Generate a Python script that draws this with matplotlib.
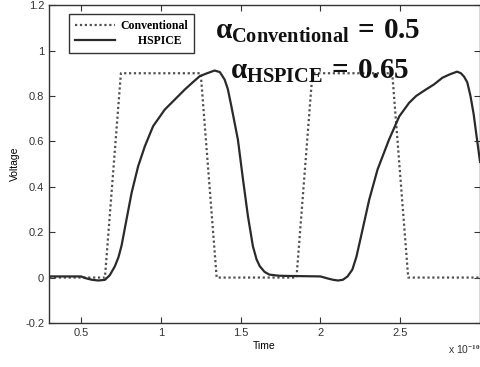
import matplotlib
matplotlib.use("Agg")
import matplotlib.pyplot as plt

plt.rcParams['font.family'] = ['Liberation Sans', 'DejaVu Sans']
plt.rcParams['mathtext.fontset'] = 'custom'
plt.rcParams['mathtext.rm'] = 'Liberation Serif:bold'
plt.rcParams['mathtext.bf'] = 'Liberation Serif:bold'
plt.rcParams['mathtext.it'] = 'Liberation Serif:bold'

# conventional model (units of 1e-10 s)
t_conv = [0.3, 0.65, 0.75, 1.25, 1.35, 1.85, 1.95, 2.45, 2.55, 3.0]
v_conv = [0, 0, 0.9, 0.9, 0, 0, 0.9, 0.9, 0, 0]

# HSPICE simulation
t_hsp = [0.30, 0.40, 0.50, 0.53, 0.57, 0.61, 0.65, 0.68, 0.7125, 0.735,
         0.754, 0.785, 0.817, 0.858, 0.90, 0.952, 1.025, 1.0875, 1.15, 1.20,
         1.244, 1.29, 1.3375, 1.37, 1.40, 1.42, 1.442, 1.483, 1.515, 1.546,
         1.577, 1.60, 1.62, 1.65, 1.68, 1.74, 1.80, 1.90, 2.00, 2.04, 2.08,
         2.11, 2.14, 2.17, 2.20, 2.225, 2.254, 2.306, 2.358, 2.43, 2.494,
         2.556, 2.60, 2.66, 2.71, 2.764, 2.81, 2.856, 2.88, 2.90, 2.92, 2.94,
         2.96, 2.975, 3.0]
v_hsp = [0.005, 0.005, 0.005, -0.003, -0.01, -0.013, -0.01, 0.01, 0.05,
         0.09, 0.14, 0.255, 0.373, 0.49, 0.578, 0.667, 0.74, 0.784, 0.828,
         0.86, 0.887, 0.90, 0.912, 0.905, 0.872, 0.83, 0.755, 0.608, 0.432,
         0.27, 0.138, 0.08, 0.05, 0.025, 0.013, 0.008, 0.007, 0.006, 0.005,
         -0.003, -0.01, -0.013, -0.01, 0.005, 0.035, 0.09, 0.18, 0.344, 0.476,
         0.608, 0.71, 0.77, 0.80, 0.828, 0.85, 0.88, 0.895, 0.907, 0.90,
         0.885, 0.86, 0.80, 0.72, 0.64, 0.51]

xticks = [0.5, 1, 1.5, 2, 2.5]
xticklabels = ['0.5', '1', '1.5', '2', '2.5']
yticks = [-0.2, 0, 0.2, 0.4, 0.6, 0.8, 1, 1.2]
yticklabels = ['-0.2', '0', '0.2', '0.4', '0.6', '0.8', '1', '1.2']

fig = plt.figure(figsize=(4.81, 3.67), dpi=100)
ax = fig.add_axes([0.102, 0.12, 0.896, 0.866])

ax.plot(t_conv, v_conv, color='#505050', lw=1.6, ls=(0, (1, 1.2)), label='Conventional')
ax.plot(t_hsp, v_hsp, color='#2a2a2a', lw=1.6, label='      HSPICE')

ax.set_xlim(0.3, 3.0)
ax.set_ylim(-0.2, 1.2)
ax.set_xticks(xticks)
ax.set_xticklabels(xticklabels)
ax.set_yticks(yticks)
ax.set_yticklabels(yticklabels)
ax.tick_params(direction='in', top=True, right=True, length=4, labelsize=8,
               colors='#333333', width=0.8)
for s in ax.spines.values():
    s.set_color('#333333')
    s.set_linewidth(1.0)

ax.set_xlabel('Time', fontsize=7.5, labelpad=2)
ax.set_ylabel('Voltage', fontsize=7.5, labelpad=4)

leg = ax.legend(loc='upper left', bbox_to_anchor=(0.033, 0.99), fancybox=False,
                framealpha=1, edgecolor='#333333', handlelength=3.4,
                borderpad=0.5, labelspacing=0.25, handletextpad=0.4,
                prop={'family': 'Liberation Serif', 'weight': 'bold', 'size': 8.5})
leg.get_frame().set_linewidth(1.0)

ax.text(0.385, 0.895, r'$\alpha_{\mathrm{Conventional}}\,=\,0.5$', transform=ax.transAxes,
        fontsize=21, color='#111111', va='baseline')
ax.text(0.42, 0.768, r'$\alpha_{\mathrm{HSPICE}}\,=\,0.65$', transform=ax.transAxes,
        fontsize=21, color='#111111', va='baseline')

fig.text(0.932, 0.035, r'x 10$^{-10}$', fontsize=7.5, color='#333333')

fig.savefig('out.png', dpi=100)
